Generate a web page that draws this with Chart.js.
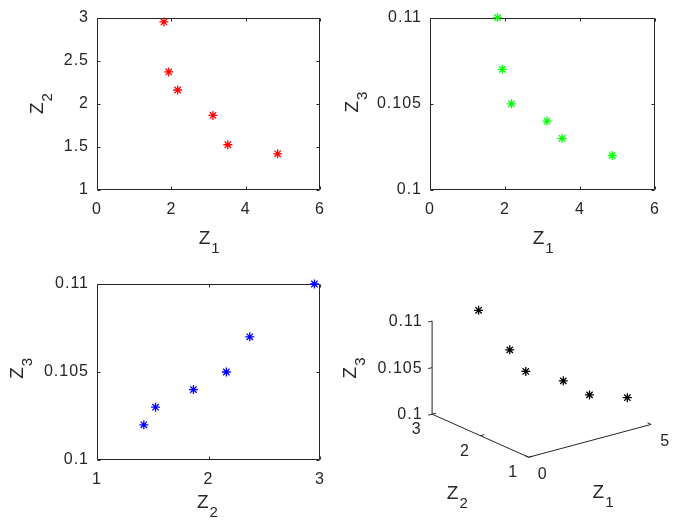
<!DOCTYPE html>
<html><head><meta charset="utf-8">
<script src="https://cdn.jsdelivr.net/npm/chart.js@4.4.1/dist/chart.umd.min.js"></script>
<style>
html,body{margin:0;padding:0;background:#fff;}
body{width:682px;height:531px;position:relative;overflow:hidden;}
canvas{position:absolute;}
</style></head><body>
<canvas id="c1" width="341" height="260" style="left:0;top:0;width:341px;height:260px"></canvas>
<canvas id="c2" width="352" height="260" style="left:330px;top:0;width:352px;height:260px"></canvas>
<canvas id="c3" width="341" height="271" style="left:0;top:260px;width:341px;height:271px"></canvas>
<canvas id="c4" width="341" height="271" style="left:341px;top:260px;width:341px;height:271px"></canvas>
<script>
// ---- data ----
const z1 = [1.80, 1.93, 2.17, 3.12, 3.52, 4.86];
const z2 = [2.95, 2.37, 2.16, 1.865, 1.525, 1.42];
const z3 = [0.110, 0.107, 0.105, 0.104, 0.103, 0.102];

// ---- tick labels ----
const z1Ticks = [0, 2, 4, 6];
const z2Ticks = [1, 1.5, 2, 2.5, 3];
const z2TicksB = [1, 2, 3];
const z3Ticks = [0.1, 0.105, 0.11];
const z1Ticks3d = [0, 5];
const z2Ticks3d = [1, 2, 3];
const z3Ticks3d = [0.1, 0.105, 0.11];
const lim1 = [0, 5], lim2 = [1, 3], lim3 = [0.1, 0.11];

const FONT = "'Liberation Sans', Arial, Helvetica, sans-serif";
const INK = '#262626';

function pts(a, b) { return a.map((v, i) => ({x: v, y: b[i]})); }

function drawLabel(ctx, cx, cy, main, sub, vertical) {
  ctx.save();
  ctx.translate(cx, cy);
  if (vertical) ctx.rotate(-Math.PI / 2);
  ctx.fillStyle = INK;
  ctx.textBaseline = 'alphabetic';
  ctx.textAlign = 'left';
  ctx.font = '19px ' + FONT;
  const w = ctx.measureText(main).width;
  ctx.fillText(main, -w / 2, 7);
  ctx.font = '15px ' + FONT;
  ctx.fillText(sub, w / 2, 16);
  ctx.restore();
}

const spacing = {
  id: 'spacing',
  beforeDraw(chart) { try { chart.ctx.letterSpacing = '1px'; } catch (e) {} }
};

const frame = {
  id: 'frame',
  beforeDatasetsDraw(chart) {
    const {ctx, chartArea: a, scales: {x, y}} = chart;
    const L = Math.round(a.left) + 0.5, R = Math.round(a.right) - 0.5;
    const T = Math.round(a.top) + 0.5, B = Math.round(a.bottom) - 0.5;
    const TL = 3;
    ctx.save();
    ctx.strokeStyle = INK; ctx.lineWidth = 1;
    ctx.beginPath();
    ctx.rect(L, T, R - L, B - T);
    x.ticks.forEach(t => {
      const p = Math.round(x.getPixelForValue(t.value)) + 0.5;
      ctx.moveTo(p, B); ctx.lineTo(p, B - TL);
      ctx.moveTo(p, T); ctx.lineTo(p, T + TL);
    });
    y.ticks.forEach(t => {
      const p = Math.round(y.getPixelForValue(t.value)) + 0.5;
      ctx.moveTo(L, p); ctx.lineTo(L + TL, p);
      ctx.moveTo(R, p); ctx.lineTo(R - TL, p);
    });
    ctx.stroke();
    ctx.restore();
  }
};

const titles = {
  id: 'titles',
  afterDraw(chart, args, o) {
    const a = chart.chartArea, ctx = chart.ctx;
    drawLabel(ctx, (a.left + a.right) / 2 + o.xdx, a.bottom + o.xdy, 'Z', o.xsub, false);
    drawLabel(ctx, a.left + o.ydx, (a.top + a.bottom) / 2 + o.ydy, 'Z', o.ysub, true);
  }
};

function axis(min, max, ticks, isX, size, pad) {
  return {
    type: 'linear', min, max,
    afterBuildTicks: s => { s.ticks = ticks.map(v => ({value: v})); },
    afterFit: s => { if (isX) s.height = size; else s.width = size; },
    grid: {display: false, drawTicks: false},
    border: {display: false},
    ticks: {padding: pad, color: INK, font: {family: FONT, size: 16}, autoSkip: false, maxRotation: 0,
      callback: v => String(v)}
  };
}

function scatter2D(id, xs, ys, color, xCfg, yCfg, pad, tcfg) {
  return new Chart(document.getElementById(id), {
    type: 'scatter',
    data: {datasets: [{data: pts(xs, ys), pointStyle: 'star', pointRadius: 4.5, pointBorderWidth: 1.3,
      borderColor: color, backgroundColor: color, clip: false}]},
    options: {
      responsive: false, animation: false, events: [],
      layout: {padding: pad},
      plugins: {legend: {display: false}, tooltip: {enabled: false}, titles: tcfg},
      scales: {x: xCfg, y: yCfg}
    },
    plugins: [spacing, frame, titles]
  });
}

// subplot 1: Z1 vs Z2
scatter2D('c1', z1, z2, '#ff0000',
  axis(0, 6, z1Ticks, true, 70, 10),
  axis(1, 3, z2Ticks, false, 97, 8),
  {left: 0, top: 15, right: 21, bottom: 0},
  {xsub: '1', ysub: '2', xdx: -3.5, xdy: 47, ydx: -61, ydy: 4});

// subplot 2: Z1 vs Z3
scatter2D('c2', z1, z3, '#00ff00',
  axis(0, 6, z1Ticks, true, 70, 10),
  axis(0.1, 0.11, z3Ticks, false, 100, 8),
  {left: 0, top: 15, right: 27, bottom: 0},
  {xsub: '1', ysub: '3', xdx: -3.5, xdy: 47, ydx: -79.5, ydy: 2.5});

// subplot 3: Z2 vs Z3
scatter2D('c3', z2, z3, '#0000ff',
  axis(1, 3, z2TicksB, true, 71, 10),
  axis(0.1, 0.11, z3Ticks, false, 97, 8),
  {left: 0, top: 24, right: 21, bottom: 0},
  {xsub: '2', ysub: '3', xdx: -5.2, xdy: 40.5, ydx: -81, ydy: 0.5});

// subplot 4: 3D view (orthographic projection through hidden linear scales)
const view = {e1: [126.7, 34.3], e2: [-100, 45], e3: [0, 97.3]};
function project(a, b, c) {
  const n1 = (a - lim1[0]) / (lim1[1] - lim1[0]);
  const n2 = (b - lim2[0]) / (lim2[1] - lim2[0]);
  const n3 = (c - lim3[0]) / (lim3[1] - lim3[0]);
  return {x: n1 * view.e1[0] + n2 * view.e2[0] + n3 * view.e3[0],
          y: n1 * view.e1[1] + n2 * view.e2[1] + n3 * view.e3[1]};
}

const axes3d = {
  id: 'axes3d',
  beforeDatasetsDraw(chart) {
    const {ctx, scales: {x, y}} = chart;
    const P = (a, b, c) => { const p = project(a, b, c); return [x.getPixelForValue(p.x), y.getPixelForValue(p.y)]; };
    const dir = (p, q, len) => { const dx = q[0] - p[0], dy = q[1] - p[1], n = Math.hypot(dx, dy); return [dx / n * len, dy / n * len]; };
    ctx.save();
    ctx.strokeStyle = INK; ctx.lineWidth = 1;
    ctx.beginPath();
    let p = P(0, 3, lim3[0]), q = P(0, 3, lim3[1]);
    ctx.moveTo(p[0], p[1]); ctx.lineTo(q[0], q[1]);
    p = P(0, 3, lim3[0]); q = P(0, 1, lim3[0]);
    ctx.moveTo(p[0], p[1]); ctx.lineTo(q[0], q[1]);
    p = P(0, 1, lim3[0]); q = P(5, 1, lim3[0]);
    ctx.moveTo(p[0], p[1]); ctx.lineTo(q[0], q[1]);
    // ticks
    z3Ticks3d.forEach(t => { const a = P(0, 3, t), d = dir(a, P(-1, 3, t), 4); ctx.moveTo(a[0], a[1]); ctx.lineTo(a[0] + d[0], a[1] + d[1]); });
    z2Ticks3d.forEach(t => { const a = P(0, t, lim3[0]), d = dir(a, P(1, t, lim3[0]), 4); ctx.moveTo(a[0], a[1]); ctx.lineTo(a[0] + d[0], a[1] + d[1]); });
    z1Ticks3d.forEach(t => { const a = P(t, 1, lim3[0]), d = dir(a, P(t, 2, lim3[0]), 4); ctx.moveTo(a[0], a[1]); ctx.lineTo(a[0] + d[0], a[1] + d[1]); });
    ctx.stroke();
    // tick labels
    ctx.fillStyle = INK;
    ctx.font = '16px ' + FONT;
    ctx.textBaseline = 'middle';
    ctx.textAlign = 'right';
    z3Ticks3d.forEach(t => { const a = P(0, 3, t); ctx.fillText(String(t), a[0] - 9.5, a[1] + 0.5); });
    ctx.textAlign = 'center';
    z2Ticks3d.forEach(t => { const a = P(0, t, lim3[0]); ctx.fillText(String(t), a[0] - 15.5, a[1] + 15.5); });
    z1Ticks3d.forEach(t => { const a = P(t, 1, lim3[0]); ctx.fillText(String(t), a[0] + 14, a[1] + 17); });
    ctx.restore();
    // axis titles
    let m = P(2.5, 1, lim3[0]);
    drawLabel(ctx, m[0] + 9, m[1] + 50.5, 'Z', '1', false);
    m = P(0, 2, lim3[0]);
    drawLabel(ctx, m[0] - 27.3, m[1] + 55.8, 'Z', '2', false);
    m = P(0, 3, (lim3[0] + lim3[1]) / 2);
    drawLabel(ctx, m[0] - 83.1, m[1] + 4.5, 'Z', '3', true);
  }
};

new Chart(document.getElementById('c4'), {
  type: 'scatter',
  data: {datasets: [{data: z1.map((v, i) => project(v, z2[i], z3[i])), pointStyle: 'star', pointRadius: 4.5,
    pointBorderWidth: 1.3, borderColor: '#000000', backgroundColor: '#000000', clip: false}]},
  options: {
    responsive: false, animation: false, events: [],
    layout: {padding: 0},
    plugins: {legend: {display: false}, tooltip: {enabled: false}},
    scales: {
      x: {type: 'linear', display: false, min: -188.3, max: 152.7},
      y: {type: 'linear', display: false, min: -71, max: 200}
    }
  },
  plugins: [spacing, axes3d]
});
</script>
</body></html>
